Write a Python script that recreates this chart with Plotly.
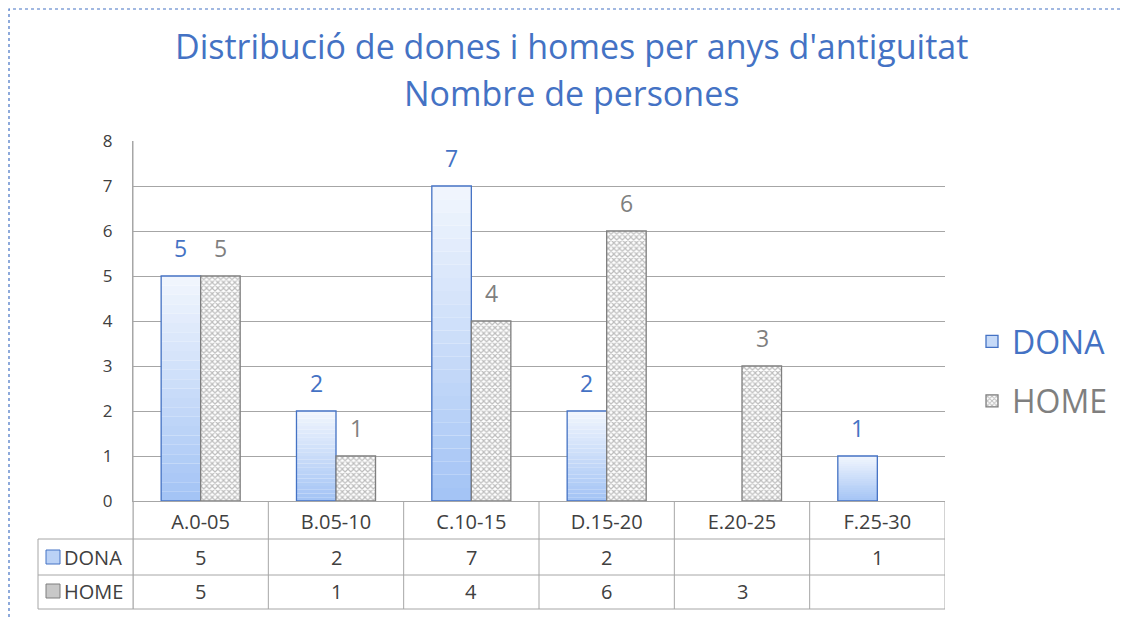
import plotly.graph_objects as go

categories = ["A.0-05", "B.05-10", "C.10-15", "D.15-20", "E.20-25", "F.25-30"]
dona = [5, 2, 7, 2, None, 1]
home = [5, 1, 4, 6, 3, None]
y_ticks = [0, 1, 2, 3, 4, 5, 6, 7, 8]
title_lines = ["Distribució de dones i homes per anys d'antiguitat", "Nombre de persones"]

OFF = 8  # page body margin
W, H = 1130, 617
L, R, T, B = 133 - OFF, 945 - OFF, 141 - OFF, 501 - OFF
BLUE = "#4472C4"
GRAY = "#7F7F7F"
GRID = "#A6A6A6"
TXT = "#404040"
FONT = "Open Sans"


def px(x):
    return (x - OFF - L) / (R - L)


def py(y):
    return (B - (y - OFF)) / (B - T)


fig = go.Figure()

# gradient for DONA bars: light at top, darker at bottom
N = 24
top_c = (240, 245, 253)
bot_c = (164, 196, 245)
for i in range(N):
    f = i / (N - 1)
    c = tuple(round(bot_c[k] + (top_c[k] - bot_c[k]) * f) for k in range(3))
    base = [None if v is None else v * i / N for v in dona]
    hgt = [None if v is None else v / N for v in dona]
    fig.add_trace(go.Bar(x=categories, y=hgt, base=base, offsetgroup="d",
                         marker=dict(color="rgb(%d,%d,%d)" % c, line=dict(width=0)),
                         showlegend=False, hoverinfo="skip"))
# outline of DONA
fig.add_trace(go.Bar(x=categories, y=dona, offsetgroup="d",
                     marker=dict(color="rgba(0,0,0,0)", line=dict(color=BLUE, width=1.3)),
                     showlegend=False, name="DONA"))
# legend entry for DONA
fig.add_trace(go.Bar(x=categories, y=[None] * len(categories), offsetgroup="d",
                     name='<span style="color:%s">DONA</span>' % BLUE, legendgroup="a",
                     marker=dict(color="#C6DAF8", line=dict(color=BLUE, width=1.3))))
# HOME patterned
fig.add_trace(go.Bar(x=categories, y=home, offsetgroup="h",
                     name='<span style="color:%s">HOME</span>' % GRAY, legendgroup="b",
                     marker=dict(color="white", line=dict(color=GRAY, width=1.3),
                                 pattern=dict(shape="x", fgcolor="#7A7A7A", bgcolor="white",
                                              size=4, solidity=0.5))))

annotations = []
# data labels
for i, (d, h) in enumerate(zip(dona, home)):
    if d is not None:
        annotations.append(dict(x=categories[i], y=d, text=str(d), xref="x", yref="y",
                                xshift=-20, yshift=28, showarrow=False, yanchor="middle",
                                font=dict(size=23, color=BLUE, family=FONT)))
    if h is not None:
        annotations.append(dict(x=categories[i], y=h, text=str(h), xref="x", yref="y",
                                xshift=20, yshift=28, showarrow=False, yanchor="middle",
                                font=dict(size=23, color=GRAY, family=FONT)))

# data table rows
row_y = {"DONA": 557, "HOME": 591}
for name, vals in (("DONA", dona), ("HOME", home)):
    for i, v in enumerate(vals):
        if v is not None:
            annotations.append(dict(x=categories[i], y=py(row_y[name]), text=str(v),
                                    xref="x", yref="paper", showarrow=False,
                                    xanchor="center", yanchor="middle",
                                    font=dict(size=20, color=TXT, family=FONT)))
    annotations.append(dict(x=px(62), y=py(row_y[name]), text=name, xref="paper", yref="paper",
                            xanchor="left", yanchor="middle", showarrow=False,
                            font=dict(size=20, color=TXT, family=FONT)))

# title
for t, ypx in zip(title_lines, (46, 93)):
    annotations.append(dict(x=px(571), y=py(ypx), xref="paper", yref="paper", text=t,
                            showarrow=False, xanchor="center", yanchor="middle",
                            font=dict(size=34, color=BLUE, family=FONT)))

fig.update_layout(
    width=W, height=H,
    margin=dict(l=L, r=W - R, t=T, b=H - B),
    paper_bgcolor="white", plot_bgcolor="white",
    barmode="group", bargap=0.416, bargroupgap=0,
    font=dict(family=FONT, color=TXT),
    showlegend=True,
    legend=dict(x=px(972), y=py(314), xanchor="left", yanchor="top",
                font=dict(size=32, family=FONT), tracegroupgap=15,
                itemwidth=30, bgcolor="rgba(0,0,0,0)"),
    xaxis=dict(range=[-0.5, len(categories) - 0.5], showgrid=False, zeroline=False,
               showline=True, linecolor=GRID, linewidth=1, ticks="",
               tickfont=dict(size=20, color=TXT), ticklabelstandoff=3),
    yaxis=dict(range=[0, 8], tickvals=y_ticks, showgrid=True, gridcolor=GRID, gridwidth=1,
               zeroline=False, showline=True, linecolor=GRID, linewidth=1,
               tickfont=dict(size=17, color=TXT), ticklabelstandoff=16),
)

shapes = []
line = dict(color=GRID, width=1)
# table grid lines
for k in range(len(categories) + 1):
    shapes.append(dict(type="line", xref="x", yref="paper", x0=k - 0.5, x1=k - 0.5,
                       y0=py(609), y1=0, line=line))
shapes.append(dict(type="line", xref="paper", yref="paper", x0=0, x1=0, y0=py(609), y1=1, line=line))
shapes.append(dict(type="line", xref="paper", yref="paper", x0=px(38), x1=px(38),
                   y0=py(609), y1=py(539), line=line))
for yy in (539, 575, 609):
    shapes.append(dict(type="line", xref="paper", yref="paper", x0=px(38), x1=1,
                       y0=py(yy), y1=py(yy), line=line))
# table row key icons
shapes.append(dict(type="rect", xref="paper", yref="paper", x0=px(46), x1=px(60),
                   y0=py(564), y1=py(550), fillcolor="#BBD2F6", line=dict(color=BLUE, width=1)))
shapes.append(dict(type="rect", xref="paper", yref="paper", x0=px(46), x1=px(60),
                   y0=py(598), y1=py(584), fillcolor="#C8C8C8", line=dict(color=GRAY, width=1)))
# dotted chart border (as close to the page corner as the figure allows)
shapes.append(dict(type="rect", xref="paper", yref="paper", x0=px(9), x1=px(1128),
                   y0=py(640), y1=py(9), line=dict(color=BLUE, width=1.2, dash="dot"),
                   layer="below"))

fig.update_layout(annotations=annotations, shapes=shapes)
fig.write_html("out.html")
